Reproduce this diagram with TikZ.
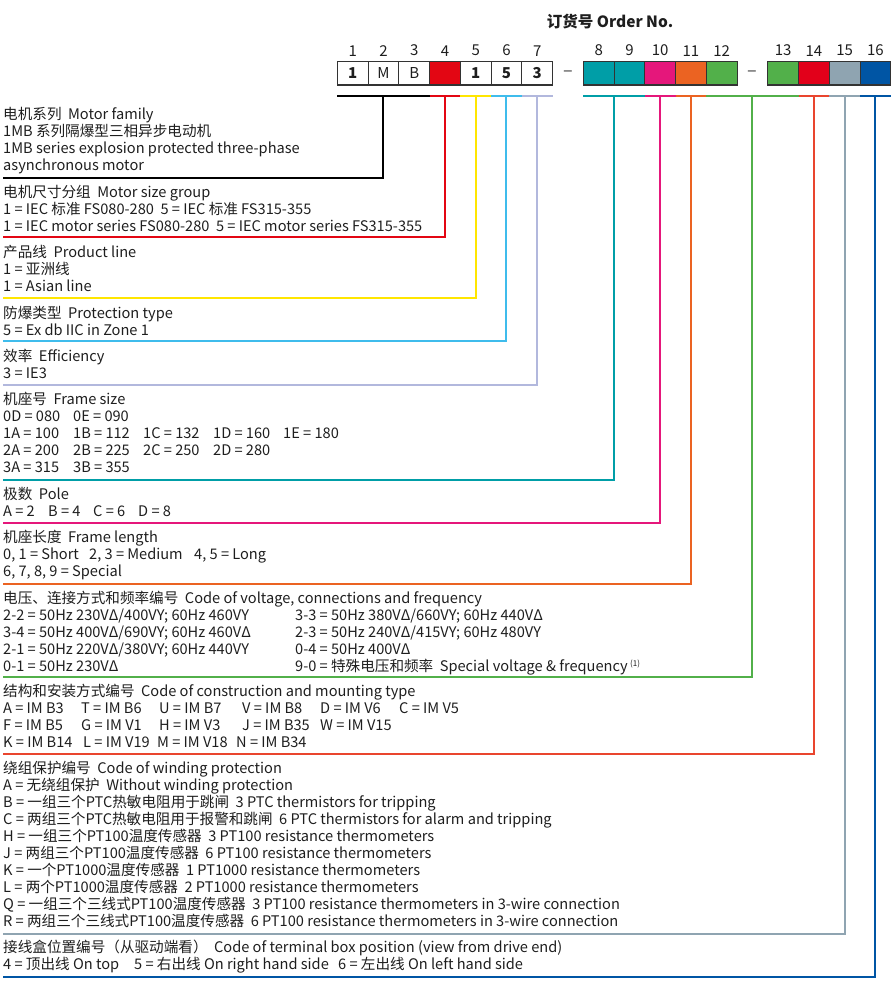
\documentclass[tikz,border=0pt]{standalone}
\usepackage{fontspec}
\setmainfont{Noto Sans CJK SC}
\usetikzlibrary{positioning}

\definecolor{txt}{HTML}{1E1E1E}
\definecolor{frame}{HTML}{333333}
\definecolor{cRed}{HTML}{E30613}
\definecolor{cYellow}{HTML}{FFE600}
\definecolor{cSky}{HTML}{3FBCEC}
\definecolor{cLav}{HTML}{B2B8DD}
\definecolor{cTeal}{HTML}{009EA7}
\definecolor{cMag}{HTML}{E5177B}
\definecolor{cOrange}{HTML}{EB6322}
\definecolor{cGreen}{HTML}{52B04A}
\definecolor{cRedB}{HTML}{E2001A}
\definecolor{cTomato}{HTML}{E9452E}
\definecolor{cGray}{HTML}{8FA4B1}
\definecolor{cBlue}{HTML}{0055A4}

\tikzset{
  digit/.style={draw=frame, line width=1.1pt, minimum width=30.75pt,
    minimum height=23.3pt, inner sep=0pt, outer sep=0pt, text=txt,
    font=\fontsize{15}{15}\selectfont},
  gap/.style={minimum width=30.75pt, inner sep=0pt, outer sep=0pt,
    text=black!75, font=\fontsize{18}{18}\selectfont},
  posnum/.style={inner sep=0pt, text=txt, font=\fontsize{15}{15}\selectfont},
  sec/.style={anchor=north west, align=left, inner sep=0pt, text=txt,
    font=\fontsize{14.6}{17}\selectfont},
  lead/.style={line width=2pt},
}
\newcommand{\cell}[2][70pt]{\makebox[#1][l]{#2}}

\begin{document}
\begin{tikzpicture}[x=1pt, y=-1pt]
        \useasboundingbox (0,0) rectangle (893,992);

        % Titel
        \node[font=\bfseries\fontsize{15.5}{15.5}\selectfont, text=txt] (order) at (610,22) {订货号 Order No.};

        % Kaestchen
        \node[digit] (d1) at (352.7,73.4) {\bfseries 1};
        \node[digit] (d2) [right=0pt of d1] {M};
        \node[digit] (d3) [right=0pt of d2] {B};
        \node[digit, fill=cRed] (d4) [right=0pt of d3] {};
        \node[digit] (d5) [right=0pt of d4] {\bfseries 1};
        \node[digit] (d6) [right=0pt of d5] {\bfseries 5};
        \node[digit] (d7) [right=0pt of d6] {\bfseries 3};
        \node[gap] (dash1) [right=0pt of d7] {–};
        \node[digit, fill=cTeal] (d8) [right=0pt of dash1] {};
        \node[digit, fill=cTeal] (d9) [right=0pt of d8] {};
        \node[digit, fill=cMag] (d10) [right=0pt of d9] {};
        \node[digit, fill=cOrange] (d11) [right=0pt of d10] {};
        \node[digit, fill=cGreen] (d12) [right=0pt of d11] {};
        \node[gap] (dash2) [right=0pt of d12] {–};
        \node[digit, fill=cGreen] (d13) [right=0pt of dash2] {};
        \node[digit, fill=cRedB] (d14) [right=0pt of d13] {};
        \node[digit, fill=cGray] (d15) [right=0pt of d14] {};
        \node[digit, fill=cBlue] (d16) [right=0pt of d15] {};

        % Stellen
        \foreach \i in {1,...,16}
          \node[posnum] (n\i) [above=5.5pt of d\i] {\i};

        % Texte
        \node[sec] (family) at (3,107) {电机系列\ \ Motor family\\
          1MB 系列隔爆型三相异步电动机\\
          1MB series explosion protected three-phase\\
          asynchronous motor};
        \node[sec] (sizegrp) at (3,185) {电机尺寸分组\ \ Motor size group\\
          1 = IEC 标准 FS080-280\ \ 5 = IEC 标准 FS315-355\\
          1 = IEC motor series FS080-280\ \ 5 = IEC motor series FS315-355};
        \node[sec] (prodline) at (3,245) {产品线\ \ Product line\\
          1 = 亚洲线\\
          1 = Asian line};
        \node[sec] (prot) at (3,306) {防爆类型\ \ Protection type\\
          5 = Ex db IIC in Zone 1};
        \node[sec] (eff) at (3,349) {效率\ \ Efficiency\\
          3 = IE3};
        \node[sec] (frmsize) at (3,392) {机座号\ \ Frame size\\
          \cell{0D = 080}0E = 090\\
          \cell{1A = 100}\cell{1B = 112}\cell{1C = 132}\cell{1D = 160}1E = 180\\
          \cell{2A = 200}\cell{2B = 225}\cell{2C = 250}2D = 280\\
          \cell{3A = 315}3B = 355};
        \node[sec] (pole) at (3,487) {极数\ \ Pole\\
          \cell[45pt]{A = 2}\cell[45pt]{B = 4}\cell[45pt]{C = 6}D = 8};
        \node[sec] (frmlen) at (3,530) {机座长度\ \ Frame length\\
          \cell[86pt]{0, 1 = Short}\cell[105pt]{2, 3 = Medium}4, 5 = Long\\
          6, 7, 8, 9 = Special};
        \node[sec] (volt) at (3,591) {电压、连接方式和频率编号\ \ Code of voltage, connections and frequency\\
          \cell[292pt]{2-2 = 50Hz 230VΔ/400VY; 60Hz 460VY}3-3 = 50Hz 380VΔ/660VY; 60Hz 440VΔ\\
          \cell[292pt]{3-4 = 50Hz 400VΔ/690VY; 60Hz 460VΔ}2-3 = 50Hz 240VΔ/415VY; 60Hz 480VY\\
          \cell[292pt]{2-1 = 50Hz 220VΔ/380VY; 60Hz 440VY}0-4 = 50Hz 400VΔ\\
          \cell[292pt]{0-1 = 50Hz 230VΔ}9-0 = 特殊电压和频率\ \ Special voltage \& frequency\,\raisebox{5pt}{\fontsize{8}{8}\selectfont(1)}};
        \node[sec] (mount) at (3,684) {结构和安装方式编号\ \ Code of construction and mounting type\\
          \cell[78pt]{A = IM B3}\cell[78pt]{T = IM B6}\cell[83pt]{U = IM B7}\cell[78pt]{V = IM B8}\cell[79pt]{D = IM V6}C = IM V5\\
          \cell[78pt]{F = IM B5}\cell[78pt]{G = IM V1}\cell[83pt]{H = IM V3}\cell[78pt]{J = IM B35}W = IM V15\\
          \cell[80pt]{K = IM B14}\cell[74pt]{L = IM V19}\cell[79pt]{M = IM V18}N = IM B34};
        \node[sec] (winding) at (3,761) {绕组保护编号\ \ Code of winding protection\\
          A = 无绕组保护\ \ Without winding protection\\
          B = 一组三个PTC热敏电阻用于跳闸\ \ 3 PTC thermistors for tripping\\
          C = 两组三个PTC热敏电阻用于报警和跳闸\ \ 6 PTC thermistors for alarm and tripping\\
          H = 一组三个PT100温度传感器\ \ 3 PT100 resistance thermometers\\
          J = 两组三个PT100温度传感器\ \ 6 PT100 resistance thermometers\\
          K = 一个PT1000温度传感器\ \ 1 PT1000 resistance thermometers\\
          L = 两个PT1000温度传感器\ \ 2 PT1000 resistance thermometers\\
          Q = 一组三个三线式PT100温度传感器\ \ 3 PT100 resistance thermometers in 3-wire connection\\
          R = 两组三个三线式PT100温度传感器\ \ 6 PT100 resistance thermometers in 3-wire connection};
        \node[sec] (tbox) at (3,940) {接线盒位置编号（从驱动端看）\ \ Code of terminal box position (view from drive end)\\
          \cell[131pt]{4 = 顶出线 On top}\cell[204pt]{5 = 右出线 On right hand side}6 = 左出线 On left hand side};

        % Balken unter den Kaestchen
        \coordinate (bar) at (0,96);
        \draw[lead, black] (d1.west |- bar) -- (d3.east |- bar);
        \draw[lead, cRed] (d4.west |- bar) -- (d4.east |- bar);
        \draw[lead, cYellow] (d5.west |- bar) -- (d5.east |- bar);
        \draw[lead, cSky] (d6.west |- bar) -- (d6.east |- bar);
        \draw[lead, cLav] (d7.west |- bar) -- (d7.east |- bar);
        \draw[lead, cTeal] (d8.west |- bar) -- (d9.east |- bar);
        \draw[lead, cMag] (d10.west |- bar) -- (d10.east |- bar);
        \draw[lead, cOrange] (d11.west |- bar) -- (d11.east |- bar);
        \draw[lead, cGreen] (d12.west |- bar) -- (d13.east |- bar);
        \draw[lead, cTomato] (d14.west |- bar) -- (d14.east |- bar);
        \draw[lead, cGray] (d15.west |- bar) -- (d15.east |- bar);
        \draw[lead, cBlue] (d16.west |- bar) -- (d16.east |- bar);

        % Linien zu den Texten
        \coordinate (r1) at (3,178);
        \coordinate (r2) at (3,237.3);
        \coordinate (r3) at (3,297.5);
        \coordinate (r4) at (3,340.5);
        \coordinate (r5) at (3,384.5);
        \coordinate (r6) at (3,480);
        \coordinate (r7) at (3,522.7);
        \coordinate (r8) at (3,584);
        \coordinate (r9) at (3,677);
        \coordinate (r10) at (3,754);
        \coordinate (r11) at (3,934);
        \coordinate (r12) at (3,977);
        \draw[lead, black] (d2 |- bar) -- (d2 |- r1) -- (r1);
        \draw[lead, cRed] (d4 |- bar) -- (d4 |- r2) -- (r2);
        \draw[lead, cYellow] (d5 |- bar) -- (d5 |- r3) -- (r3);
        \draw[lead, cSky] (d6 |- bar) -- (d6 |- r4) -- (r4);
        \draw[lead, cLav] (d7 |- bar) -- (d7 |- r5) -- (r5);
        \draw[lead, cTeal] (d8.east |- bar) -- (d8.east |- r6) -- (r6);
        \draw[lead, cMag] (d10 |- bar) -- (d10 |- r7) -- (r7);
        \draw[lead, cOrange] (d11 |- bar) -- (d11 |- r8) -- (r8);
        \draw[lead, cGreen] (dash2 |- bar) -- (dash2 |- r9) -- (r9);
        \draw[lead, cTomato] (d14 |- bar) -- (d14 |- r10) -- (r10);
        \draw[lead, cGray] (d15 |- bar) -- (d15 |- r11) -- (r11);
        \draw[lead, cBlue] (d16 |- bar) -- (d16 |- r12) -- (r12);
    \end{tikzpicture}
\end{document}
